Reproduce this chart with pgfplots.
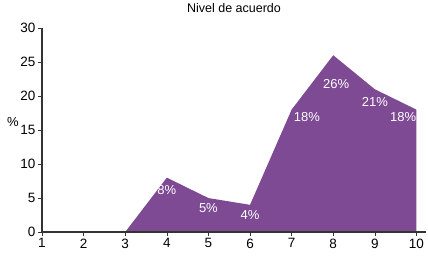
\documentclass[border=0pt]{standalone}
\usepackage{pgfplots}
\pgfplotsset{compat=1.18}
\usepackage{fontspec}
\setmainfont{Liberation Sans}
\definecolor{areapurple}{HTML}{7E4A94}
\definecolor{axisgray}{HTML}{333333}
\begin{document}
\begin{tikzpicture}[x=1pt,y=1pt]
\begin{axis}[
  name=ax,
  scale only axis,
  width=384pt, height=204pt,
  xmin=1, xmax=10.23,
  ymin=0, ymax=30,
  xtick={1,...,10},
  ytick={0,5,...,30},
  axis x line*=bottom,
  axis y line*=left,
  axis line style={axisgray, line width=1.6pt, -},
  tick align=outside,
  major tick length=4pt,
  tick style={axisgray, line width=0.6pt},
  tick label style={font=\fontsize{13.5}{15}\selectfont},
  xticklabel style={yshift=1pt},
  yticklabel style={xshift=1pt},
  /pgf/number format/assume math mode=true,
  title={Nivel de acuerdo},
  title style={font=\fontsize{12.5}{14}\selectfont, yshift=6pt},
  ylabel={\%},
  ylabel style={rotate=-90, font=\fontsize{13}{15}\selectfont, at={(ticklabel cs:0.54,-5pt)}},
  clip=false,
  axis on top,
]
\addplot[fill=areapurple, draw=none] coordinates {
  (1,0) (2,0) (3,0) (4,8) (5,5) (6,4) (7,18) (8,26) (9,21) (10,18)
} \closedcycle;
\addplot[draw=none, mark=none, nodes near coords, point meta=explicit symbolic,
  every node near coord/.style={anchor=north, text=white, inner sep=0pt, yshift=-8pt, font=\fontsize{13}{15}\selectfont}]
  coordinates {(4,8)[8\%] (9,21)[21\%]};
\addplot[draw=none, mark=none, nodes near coords, point meta=explicit symbolic,
  every node near coord/.style={anchor=north, text=white, inner sep=0pt, yshift=-5pt, font=\fontsize{13}{15}\selectfont}]
  coordinates {(5,5)[5\%] (6,4)[4\%]};
\addplot[draw=none, mark=none, nodes near coords, point meta=explicit symbolic,
  every node near coord/.style={anchor=north, text=white, inner sep=0pt, yshift=-24pt, xshift=3pt, font=\fontsize{13}{15}\selectfont}]
  coordinates {(8,26)[26\%]};
\addplot[draw=none, mark=none, nodes near coords, point meta=explicit symbolic,
  every node near coord/.style={anchor=north west, text=white, inner sep=0pt, yshift=-3pt, xshift=2pt, font=\fontsize{13}{15}\selectfont}]
  coordinates {(7,18)[18\%]};
\addplot[draw=none, mark=none, nodes near coords, point meta=explicit symbolic,
  every node near coord/.style={anchor=north east, text=white, inner sep=0pt, yshift=-3pt, xshift=0pt, font=\fontsize{13}{15}\selectfont}]
  coordinates {(10,18)[18\%]};
\end{axis}
\useasboundingbox ([xshift=-42pt,yshift=-26pt]ax.south west) rectangle ([xshift=2pt,yshift=28pt]ax.north east);
\end{tikzpicture}
\end{document}
